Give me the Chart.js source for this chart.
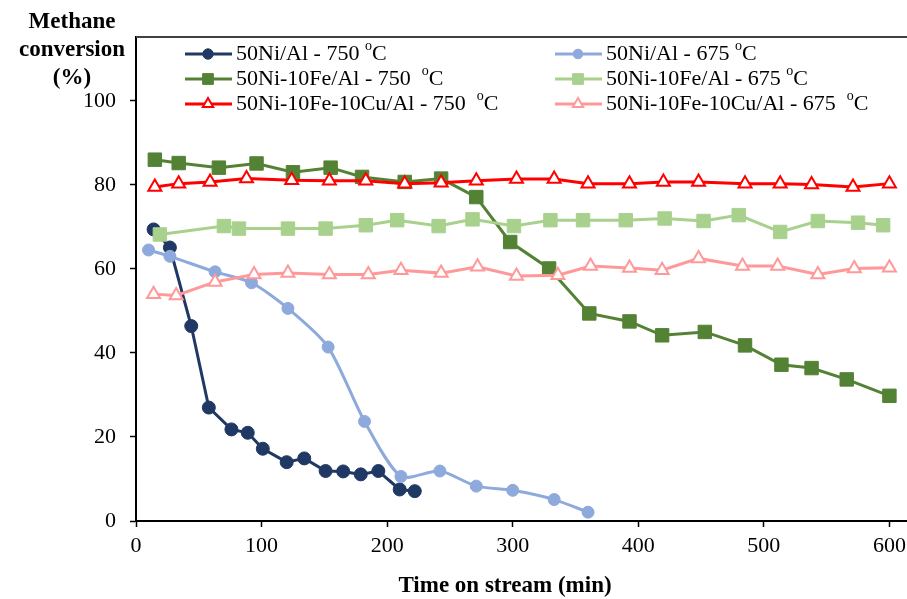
<!DOCTYPE html>
<html>
<head>
<meta charset="utf-8">
<script src="https://cdn.jsdelivr.net/npm/chart.js@4/dist/chart.umd.min.js"></script>
<style>
  html, body { margin: 0; padding: 0; background: #fff; }
  #wrap { width: 907px; height: 599px; }
</style>
</head>
<body>
<div id="wrap"><canvas id="chart" width="907" height="599"></canvas></div>
<script>
// values (time in min, methane conversion in %)
const ni750Time = [14, 27, 44, 58, 76, 89, 101, 120, 134, 151, 165, 179, 193, 210, 222];
const ni750Conv = [69.4, 65.1, 46.4, 27.0, 21.8, 21.0, 17.2, 14.0, 14.9, 11.9, 11.8, 11.1, 11.9, 7.5, 7.1];

const ni675Time = [10, 27, 63, 92, 121, 153, 182, 211, 242, 271, 300, 333, 360];
const ni675Conv = [64.5, 63.0, 59.3, 56.7, 50.6, 41.4, 23.7, 10.6, 11.9, 8.3, 7.3, 5.1, 2.1];

const fe750Time = [15, 34, 66, 96, 125, 155, 180, 214, 243, 271, 298, 329, 361, 393, 419, 453, 485, 514, 538, 566, 600];
const fe750Conv = [86.0, 85.2, 84.1, 85.1, 83.0, 84.1, 81.9, 80.7, 81.5, 77.1, 66.4, 60.1, 49.4, 47.5, 44.2, 45.0, 41.8, 37.2, 36.4, 33.7, 29.8];

const fe675Time = [19, 70, 82, 121, 151, 183, 208, 241, 268, 301, 330, 356, 390, 421, 452, 480, 513, 543, 575, 595];
const fe675Conv = [68.2, 70.2, 69.6, 69.6, 69.6, 70.4, 71.6, 70.2, 71.8, 70.2, 71.6, 71.6, 71.6, 72.0, 71.4, 72.8, 68.8, 71.4, 71.0, 70.4];

const cu750Time = [15, 34, 59, 88, 124, 154, 183, 214, 243, 271, 303, 333, 360, 393, 420, 448, 485, 513, 538, 571, 600];
const cu750Conv = [79.5, 80.3, 80.7, 81.5, 81.1, 81.0, 81.0, 80.3, 80.5, 81.0, 81.4, 81.4, 80.3, 80.3, 80.7, 80.7, 80.3, 80.3, 80.1, 79.5, 80.3];

const cu675Time = [14, 32, 63, 94, 121, 154, 185, 211, 243, 272, 303, 336, 362, 393, 419, 448, 483, 511, 543, 572, 600];
const cu675Conv = [54.0, 53.7, 56.9, 58.7, 59.0, 58.7, 58.7, 59.7, 59.0, 60.5, 58.3, 58.5, 60.7, 60.2, 59.7, 62.5, 60.7, 60.7, 58.7, 60.1, 60.3];

const seriesLabels = [
  '50Ni/Al - 750 °C',
  '50Ni/Al - 675 °C',
  '50Ni-10Fe/Al - 750  °C',
  '50Ni-10Fe/Al - 675 °C',
  '50Ni-10Fe-10Cu/Al - 750  °C',
  '50Ni-10Fe-10Cu/Al - 675  °C'
];
const xTicks = [0, 100, 200, 300, 400, 500, 600];
const yTicks = [0, 20, 40, 60, 80, 100];
const yTitleLines = ['Methane', 'conversion', '(%)'];
const xTitle = 'Time on stream (min)';

const FONT = '"Liberation Serif", "Times New Roman", serif';

function toPoints(xs, ys) {
  return xs.map((x, i) => ({ x, y: ys[i] }));
}

function series(i, xs, ys, color, style) {
  const hollow = style === 'triangle';
  return {
    label: seriesLabels[i],
    data: toPoints(xs, ys),
    borderColor: color,
    backgroundColor: hollow ? '#fff' : color,
    pointBackgroundColor: hollow ? '#fff' : color,
    pointBorderColor: color,
    pointBorderWidth: hollow ? 2 : 1,
    pointStyle: style,
    pointRadius: style === 'rect' ? 9.5 : (style === 'triangle' ? 7.5 : 6.5),
    borderWidth: 3,
    tension: 0,
    order: 6 - i
  };
}

const datasets = [
  series(0, ni750Time, ni750Conv, '#1F3864', 'circle'),
  series(1, ni675Time, ni675Conv, '#8EA9DB', 'circle'),
  series(2, fe750Time, fe750Conv, '#548235', 'rect'),
  series(3, fe675Time, fe675Conv, '#A9D18E', 'rect'),
  series(4, cu750Time, cu750Conv, '#FF0000', 'triangle'),
  series(5, cu675Time, cu675Conv, '#FF9999', 'triangle')
];
datasets[1].tension = 0.25;
datasets[1].pointRadius = 6;

// draws "...°C" with the o raised, the way the original legend shows it
function drawSuperLabel(ctx, text, x, y) {
  const parts = text.split('°');
  ctx.font = '22px ' + FONT;
  ctx.fillText(parts[0], x, y);
  let cx = x + ctx.measureText(parts[0]).width;
  if (parts.length > 1) {
    ctx.font = '14px ' + FONT;
    ctx.fillText('o', cx, y - 8);
    cx += ctx.measureText('o').width;
    ctx.font = '22px ' + FONT;
    ctx.fillText(parts[1], cx, y);
  }
}

const decorations = {
  id: 'decorations',
  afterDraw(chart) {
    const { ctx, chartArea } = chart;
    ctx.save();

    // frame line along the top of the plot
    ctx.strokeStyle = '#404040';
    ctx.lineWidth = 2;
    ctx.beginPath();
    ctx.moveTo(chartArea.left, chartArea.top);
    ctx.lineTo(chartArea.right, chartArea.top);
    ctx.stroke();

    // legend: two columns, three rows, inside the plot
    const colX = [185, 555];
    const rowY = [54, 79, 104];
    chart.data.datasets.forEach((ds, i) => {
      const x = colX[i % 2];
      const y = rowY[Math.floor(i / 2)];
      ctx.strokeStyle = ds.borderColor;
      ctx.lineWidth = 3;
      ctx.beginPath();
      ctx.moveTo(x, y);
      ctx.lineTo(x + 47, y);
      ctx.stroke();
      ctx.fillStyle = ds.pointBackgroundColor;
      ctx.strokeStyle = ds.pointBorderColor;
      ctx.lineWidth = ds.pointBorderWidth;
      Chart.helpers.drawPoint(ctx, {
        pointStyle: ds.pointStyle,
        radius: ds.pointRadius * 0.8,
        rotation: 0,
        borderWidth: ds.pointBorderWidth
      }, x + 23, y);
      ctx.fillStyle = '#000';
      ctx.textAlign = 'left';
      ctx.textBaseline = 'middle';
      drawSuperLabel(ctx, ds.label, x + 51, y);
    });

    // axis titles
    ctx.fillStyle = '#000';
    ctx.textAlign = 'center';
    ctx.textBaseline = 'middle';
    ctx.font = 'bold 23px ' + FONT;
    yTitleLines.forEach((line, i) => ctx.fillText(line, 72, 22 + i * 28));
    ctx.fillText(xTitle, 505, 586);
    ctx.restore();
  }
};

new Chart(document.getElementById('chart'), {
  type: 'line',
  data: { datasets },
  options: {
    responsive: false,
    devicePixelRatio: 1,
    animation: false,
    layout: {
      autoPadding: false,
      padding: { top: 37, right: 0, left: 0, bottom: 0 }
    },
    plugins: {
      legend: { display: false },
      tooltip: { enabled: false }
    },
    elements: { line: { clip: false } },
    scales: {
      x: {
        type: 'linear',
        min: 0,
        max: 614,
        afterBuildTicks: (scale) => {
          scale.ticks = xTicks.map(v => ({ value: v }));
        },
        afterFit: (scale) => {
          scale.height = 78;
          // plot runs right to the edge of the picture
          scale.paddingRight = 0;
          scale.paddingLeft = 0;
        },
        grid: {
          drawOnChartArea: false,
          drawTicks: true,
          tickLength: 6,
          tickWidth: 1.5,
          tickColor: '#000'
        },
        border: { display: true, color: '#000', width: 2 },
        ticks: {
          padding: 6,
          color: '#000',
          font: { family: FONT, size: 22 },
          maxRotation: 0
        }
      },
      y: {
        min: 0,
        max: 115.2,
        afterBuildTicks: (scale) => {
          scale.ticks = yTicks.map(v => ({ value: v }));
        },
        afterFit: (scale) => { scale.width = 136; },
        grid: {
          drawOnChartArea: false,
          drawTicks: true,
          tickLength: 6,
          tickWidth: 1.5,
          tickColor: '#000'
        },
        border: { display: true, color: '#000', width: 2 },
        ticks: {
          padding: 14,
          color: '#000',
          font: { family: FONT, size: 22 }
        }
      }
    }
  },
  plugins: [decorations]
});
</script>
</body>
</html>
